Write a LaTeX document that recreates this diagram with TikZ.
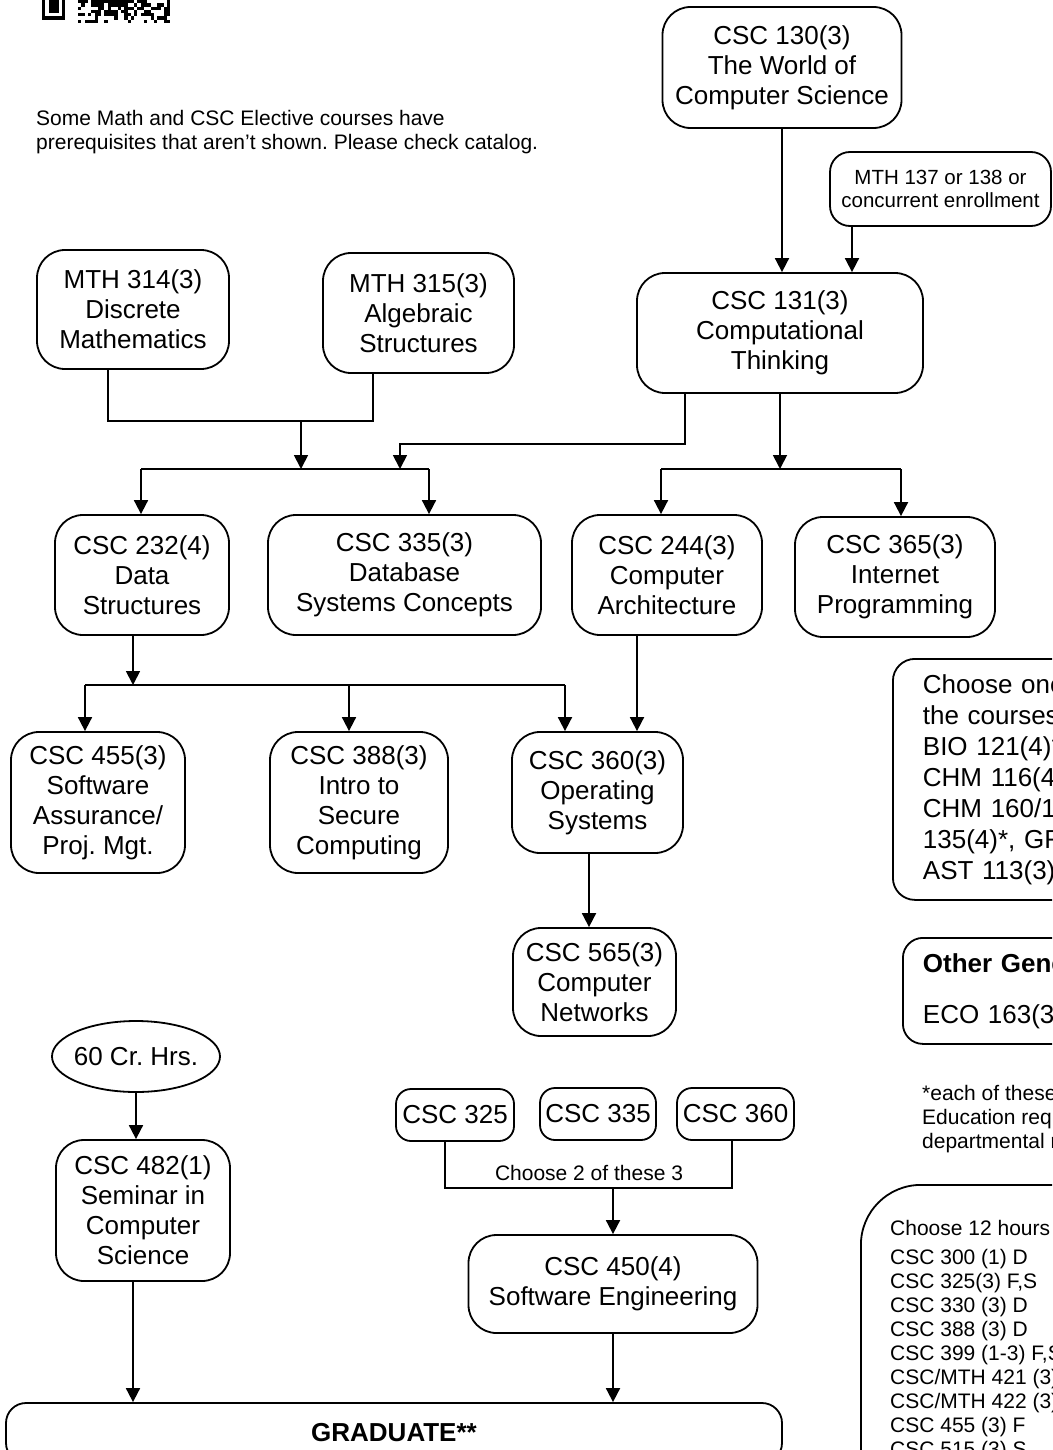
\documentclass[tikz,border=0pt]{standalone}
\usepackage{fontspec}
\setmainfont{Liberation Sans}
\usetikzlibrary{arrows.meta,shapes.geometric}
\frenchspacing

\tikzset{
  link/.style={line width=1.8pt},
  arr/.style={link, -{Triangle[length=14pt,width=14pt]}},
  course/.style={draw, link, rounded corners=28pt, align=center, inner sep=1pt,
    font=\fontsize{26}{30}\selectfont},
  pick/.style={course, rounded corners=15pt},
  note/.style={inner sep=0pt, align=left, font=\fontsize{21}{24}\selectfont},
}

\begin{document}
\begin{tikzpicture}[x=1pt,y=-1pt]
  \useasboundingbox (0,0) rectangle (1052,1450);
  \clip (0,0) rectangle (1052,1450);

  % qr code (bottom edge only)
  \fill (42,0) rectangle (65.1,19.8);
  \fill[white] (45.3,0) rectangle (61.8,16.5);
  \fill (48.6,0) rectangle (58.5,13.2);
  \pgfmathsetseed{11}
  \foreach \i in {0,...,28}{
    \foreach \j in {0,...,6}{
      \pgfmathsetmacro\r{rnd+0.07*\j}
      \ifdim\r pt<0.68pt \fill (78+3.3*\i,3.3*\j) rectangle ++(3.3,3.3); \fi
    }
  }

  \node[note, anchor=north west] (hint) at (36,110)
    {Some Math and CSC Elective courses have\\prerequisites that aren't shown. Please check catalog.};

  % courses
  \node[course, minimum width=239pt, minimum height=121pt] (c130) at (782,67.5) {CSC 130(3)\\The World of\\Computer Science};
  \node[course, rounded corners=20pt, minimum width=221pt, minimum height=74pt,
    font=\fontsize{20.5}{23}\selectfont] (m137) at (940.5,189) {MTH 137 or 138 or\\concurrent enrollment};
  \node[course, minimum width=286pt, minimum height=120pt] (c131) at (780,333) {CSC 131(3)\\Computational\\Thinking};
  \node[course, minimum width=192pt, minimum height=119pt] (m314) at (133,309.5) {MTH 314(3)\\Discrete\\Mathematics};
  \node[course, minimum width=191pt, minimum height=120pt] (m315) at (418.5,313) {MTH 315(3)\\Algebraic\\Structures};
  \node[course, minimum width=174pt, minimum height=120pt] (c232) at (142,575) {CSC 232(4)\\Data\\Structures};
  \node[course, minimum width=273pt, minimum height=120pt] (c335) at (404.5,575) {CSC 335(3)\\Database\\Systems Concepts};
  \node[course, minimum width=190pt, minimum height=120pt] (c244) at (667,575) {CSC 244(3)\\Computer\\Architecture};
  \node[course, minimum width=200pt, minimum height=120pt] (c365) at (895,577) {CSC 365(3)\\Internet\\Programming};
  \node[course, minimum width=174pt, minimum height=141pt] (c455) at (98,802.5) {CSC 455(3)\\Software\\Assurance/\\Proj. Mgt.};
  \node[course, minimum width=178pt, minimum height=141pt] (c388) at (359,802.5) {CSC 388(3)\\Intro to\\Secure\\Computing};
  \node[course, minimum width=171pt, minimum height=121pt] (c360) at (597.5,792.5) {CSC 360(3)\\Operating\\Systems};
  \node[course, minimum width=163pt, minimum height=108pt] (c565) at (594.5,982) {CSC 565(3)\\Computer\\Networks};
  \node[course, ellipse, inner xsep=-20pt, inner ysep=0pt, minimum width=168pt, minimum height=71pt] (hrs) at (136,1056.5) {60 Cr. Hrs.};
  \node[course, minimum width=174pt, minimum height=141pt] (c482) at (143,1210.5) {CSC 482(1)\\Seminar in\\Computer\\Science};
  \node[pick, minimum width=118pt, minimum height=52pt] (s325) at (455,1115) {CSC 325};
  \node[pick, minimum width=116pt, minimum height=52pt] (s335) at (598,1114) {CSC 335};
  \node[pick, minimum width=117pt, minimum height=52pt] (s360) at (735.5,1114) {CSC 360};
  \node[course, minimum width=289pt, minimum height=98pt] (c450) at (613,1284) {CSC 450(4)\\Software Engineering};
  \node[course, rounded corners=20pt, minimum width=776pt, minimum height=60pt] (grad) at (394,1433) {\bfseries GRADUATE**};

  % side boxes
  \node[draw, link, rounded corners=22pt, anchor=north west, minimum height=241pt,
    text width=330pt, inner xsep=30pt, align=left, font=\fontsize{26}{31}\selectfont] (sci) at (892,658)
    {Choose one of\\the courses:\\BIO 121(4)*,\\CHM 116(4)*,\\CHM 160/161(4)*,\\135(4)*, GRY\\AST 113(3)*};
  \node[draw, link, rounded corners=20pt, anchor=north west, minimum height=106pt,
    text width=330pt, inner xsep=20pt, align=left, font=\fontsize{26}{30}\selectfont] (gened) at (902,937)
    {{\bfseries Other General Education}\\[21pt]ECO 163(3)};
  \node[note, anchor=north west] (foot) at (922,1085)
    {*each of these courses\\Education requirements\\departmental requirements};
  \node[draw, link, rounded corners=60pt, anchor=north west, minimum width=400pt, minimum height=400pt] (elect) at (860,1184) {};
  \node[note, anchor=north west] (electxt) at (890,1220)
    {Choose 12 hours\\[5pt]CSC 300 (1) D\\CSC 325(3) F,S\\CSC 330 (3) D\\CSC 388 (3) D\\CSC 399 (1-3) F,S\\CSC/MTH 421 (3) D\\CSC/MTH 422 (3) D\\CSC 455 (3) F\\CSC 515 (3) S};

  % junction points
  \coordinate (jm) at (301,421);
  \coordinate (dsL) at (141,469);
  \coordinate (dsR) at (429,469);
  \coordinate (k1) at (400,444);
  \coordinate (dcL) at (661,469);
  \coordinate (dcR) at (901,469);
  \coordinate (dr0) at (133,685);
  \coordinate (dr1) at (85,685);
  \coordinate (dr2) at (349,685);
  \coordinate (dr3) at (565,685);
  \coordinate (jc) at (613,1188);

  % prerequisites
  \draw[arr] (c130.south) -- (c130.south |- c131.north);
  \draw[arr] ([xshift=-88.5pt]m137.south) -- ([xshift=-88.5pt]m137.south |- c131.north);
  \draw[link] ([xshift=-25pt]m314.south) |- (jm) -| ([xshift=-45.5pt]m315.south);
  \draw[arr] (jm) -- (jm |- dsL);
  \draw[arr] ([xshift=-95pt]c131.south) |- (k1) -- (k1 |- dsL);
  \draw[link] (dsL) -- (dsR);
  \draw[arr] (dsL) -- (dsL |- c232.north);
  \draw[arr] (dsR) -- (dsR |- c335.north);
  \draw[arr] (c131.south) -- (c131.south |- dcL);
  \draw[link] (dcL) -- (dcR);
  \draw[arr] (dcL) -- (dcL |- c244.north);
  \draw[arr] (dcR) -- (dcR |- c365.north);
  \draw[arr] (dr0 |- c232.south) -- (dr0);
  \draw[link] (dr1) -- (dr3);
  \foreach \n/\c in {dr1/c455, dr2/c388, dr3/c360}
    \draw[arr] (\n) -- (\n |- \c.north);
  \draw[arr] ([xshift=-30pt]c244.south) -- ([xshift=-30pt]c244.south |- c360.north);
  \draw[arr] ([xshift=-8.5pt]c360.south) -- ([xshift=-8.5pt]c360.south |- c565.north);
  \draw[arr] (hrs.south) -- (hrs.south |- c482.north);
  \draw[arr] ([xshift=-10pt]c482.south) -- ([xshift=-10pt]c482.south |- grad.north);
  \draw[link] ([xshift=-10pt]s325.south) |- (jc) -| ([xshift=-3.5pt]s360.south);
  \node[note] (pick2) at (589,1173) {Choose 2 of these 3};
  \draw[arr] (jc) -- (jc |- c450.north);
  \draw[arr] (c450.south) -- (c450.south |- grad.north);
\end{tikzpicture}
\end{document}
